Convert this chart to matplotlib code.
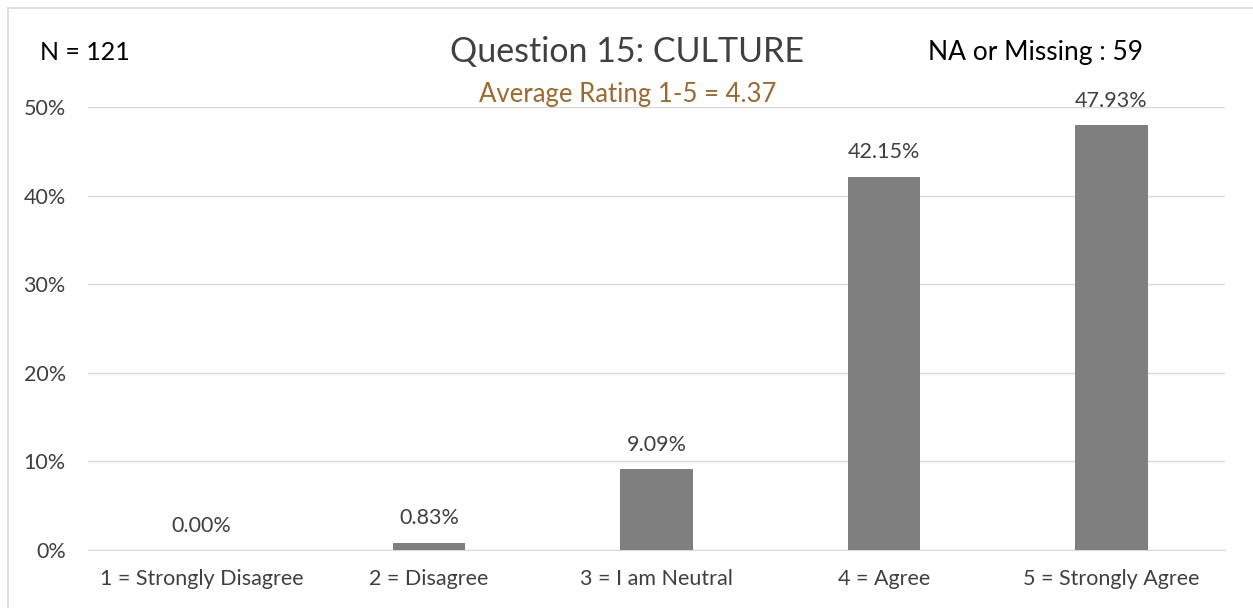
import matplotlib.pyplot as plt
from matplotlib.patches import Rectangle
from matplotlib.ticker import PercentFormatter

plt.rcParams['font.family'] = ['Lato', 'DejaVu Sans']

categories = ["1 = Strongly Disagree", "2 = Disagree", "3 = I am Neutral",
              "4 = Agree", "5 = Strongly Agree"]
percents = [0.00, 0.83, 9.09, 42.15, 47.93]
yticks = [0, 10, 20, 30, 40, 50]

title = "Question 15: CULTURE"
subtitle = "Average Rating 1-5 = 4.37"
n_text = "N = 121"
missing_text = "NA or Missing : 59"

fig = plt.figure(figsize=(12.53, 6.08), dpi=100)
ax = fig.add_axes([0.0702, 0.0954, 0.9075, 0.7286])

x = range(len(categories))
ax.bar(x, percents, width=0.32, color='#7F7F7F', zorder=3)
for xi, v in zip(x, percents):
    ax.annotate(f"{v:.2f}%", (xi, v), xytext=(0, 17.5), textcoords='offset points',
                ha='center', va='center', fontsize=15.5, color='#404040')

ax.set_xlim(-0.5, len(categories) - 0.5)
ax.set_ylim(0, 50)
ax.set_yticks(yticks)
ax.yaxis.set_major_formatter(PercentFormatter(decimals=0))
ax.set_xticks(list(x))
ax.set_xticklabels(categories)
ax.tick_params(axis='both', length=0, labelsize=15.5, colors='#404040')
ax.tick_params(axis='x', pad=14)
ax.tick_params(axis='y', pad=16)
ax.grid(axis='y', color='#D9D9D9', linewidth=1, zorder=0)
for s in ['top', 'right', 'left']:
    ax.spines[s].set_visible(False)
ax.spines['bottom'].set_color('#D9D9D9')

# outer chart border
fig.patches.append(Rectangle((0.0065, -0.01), 1.0, 0.997, transform=fig.transFigure,
                             fill=False, edgecolor='#D9D9D9', linewidth=1.2))

fig.text(0.5, 0.914, title, ha='center', va='center', fontsize=24.5, color='#404040')
fig.text(0.501, 0.845, subtitle, ha='center', va='center', fontsize=18.5, color='#9C6A30')
fig.text(0.032, 0.914, n_text, ha='left', va='center', fontsize=18, color='black')
fig.text(0.741, 0.914, missing_text, ha='left', va='center', fontsize=19, color='black')

fig.savefig('out.png', dpi=100)
